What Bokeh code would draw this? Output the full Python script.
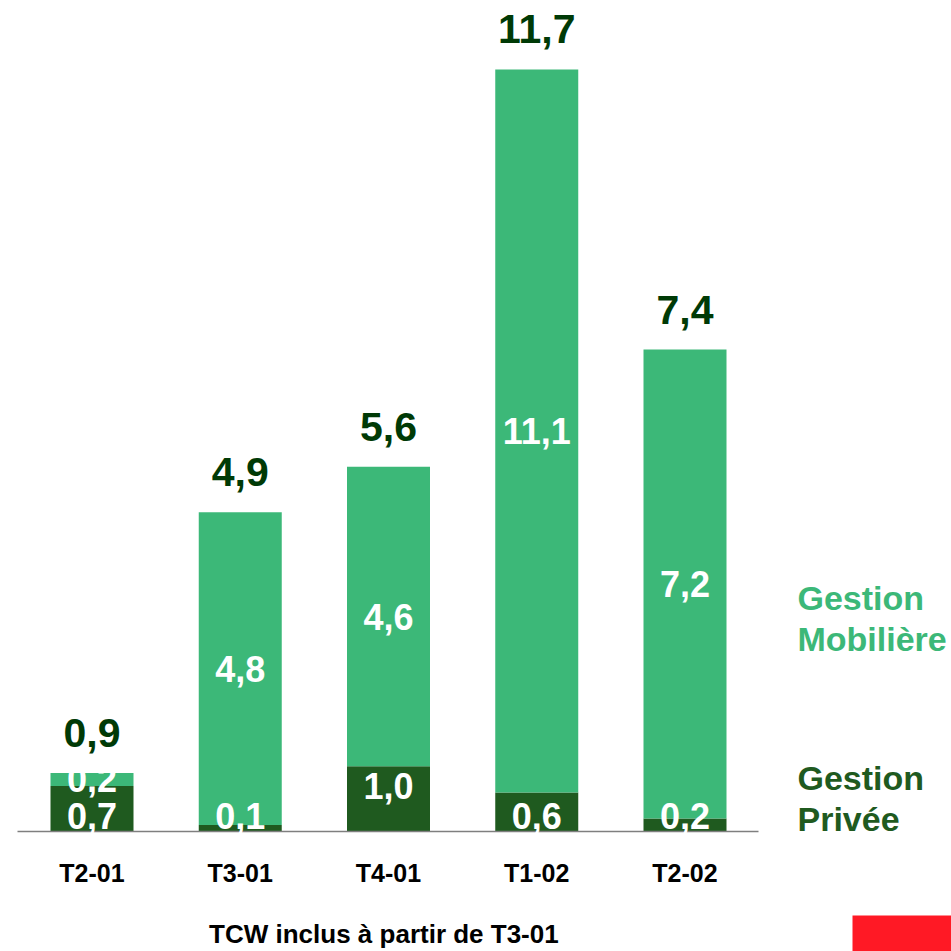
from bokeh.plotting import figure
from bokeh.models import Range1d, ColumnDataSource
from bokeh.core.properties import value
from bokeh.embed import file_html
from bokeh.resources import INLINE

# ---- data ----
categories = ["T2-01", "T3-01", "T4-01", "T1-02", "T2-02"]
privee = [0.7, 0.1, 1.0, 0.6, 0.2]          # Gestion Privée (dark, bottom)
mobiliere = [0.2, 4.8, 4.6, 11.1, 7.2]      # Gestion Mobilière (light, top)
totals = [0.9, 4.9, 5.6, 11.7, 7.4]
series_names = ["Gestion Mobilière", "Gestion Privée"]
footnote = "TCW  inclus à partir de T3-01"

def fmt(v):
    return f"{v:.1f}".replace(".", ",")

# ---- geometry (page pixel -> data) ----
W = H = 951
XS, X0 = 148.25, 91.5       # px per category, page x of first centre
YS, Y0 = 65.13, 831.0       # px per unit, page y of baseline

def xd(px):
    return (px - X0) / XS

def yd(py):
    return (Y0 - py) / YS

LIGHT = "#3CB878"
DARK = "#1F5A1F"
TOTAL_C = "#003A06"
FONT = value("Liberation Sans")

p = figure(width=W, height=H, output_backend="svg", toolbar_location=None,
           x_range=Range1d(xd(0), xd(W)), y_range=Range1d(yd(H), yd(0)),
           min_border=0)
p.axis.visible = False
p.grid.visible = False
p.outline_line_color = None
p.background_fill_color = "white"

idx = list(range(len(categories)))
tops = [a + b for a, b in zip(privee, mobiliere)]
src = ColumnDataSource(dict(
    x=idx, cat=categories, privee=privee, mobiliere=mobiliere, tops=tops,
    totals=[fmt(t) for t in totals],
    lab_p=[fmt(v) for v in privee], lab_m=[fmt(v) for v in mobiliere],
    y_tot=[t + 40 / YS for t in tops],
    y_m=[(a + t) / 2 for a, t in zip(privee, tops)],
    y_p=[(v - 0.3) if v * YS > 60 else 0.24 for v in privee],
    y_cat=[yd(872)] * len(categories),
))

bw = 83 / XS
p.vbar(x="x", width=bw, bottom=0, top="privee", source=src, fill_color=DARK, line_color=None)
p.vbar(x="x", width=bw, bottom="privee", top="tops", source=src, fill_color=LIGHT, line_color=None)

# baseline
p.segment(x0=[xd(17)], y0=[0], x1=[xd(758)], y1=[0], line_color="#7F7F7F", line_width=1.5)

# labels
p.text(x="x", y="y_tot", text="totals", source=src, text_align="center", text_baseline="middle",
       text_font=FONT, text_font_style="bold", text_font_size="41px", text_color=TOTAL_C)
p.text(x="x", y="y_m", text="lab_m", source=src, text_align="center", text_baseline="middle",
       text_font=FONT, text_font_style="bold", text_font_size="36px", text_color="white")
p.text(x="x", y="y_p", text="lab_p", source=src, text_align="center", text_baseline="middle",
       text_font=FONT, text_font_style="bold", text_font_size="36px", text_color="white")
p.text(x="x", y="y_cat", text="cat", source=src, text_align="center", text_baseline="middle",
       text_font=FONT, text_font_style="bold", text_font_size="25px", text_color="black")

# series labels at right
m1, m2 = series_names[0].split(" ")
g1, g2 = series_names[1].split(" ")
p.text(x=[xd(797)] * 2, y=[yd(597), yd(638)], text=[m1, m2], text_align="left",
       text_baseline="middle", text_font=FONT, text_font_style="bold",
       text_font_size="34px", text_color=LIGHT)
p.text(x=[xd(797)] * 2, y=[yd(777), yd(818)], text=[g1, g2], text_align="left",
       text_baseline="middle", text_font=FONT, text_font_style="bold",
       text_font_size="34px", text_color=DARK)

# footnote
p.text(x=[xd(387)], y=[yd(933)], text=[footnote], text_align="center", text_baseline="middle",
       text_font=FONT, text_font_style="bold", text_font_size="26px", text_color="black")

# red box bottom right
p.quad(left=[xd(852)], right=[xd(W)], bottom=[yd(H)], top=[yd(915)],
       fill_color="#FF1925", line_color=None)

open("out.html", "w").write(file_html(p, INLINE))
